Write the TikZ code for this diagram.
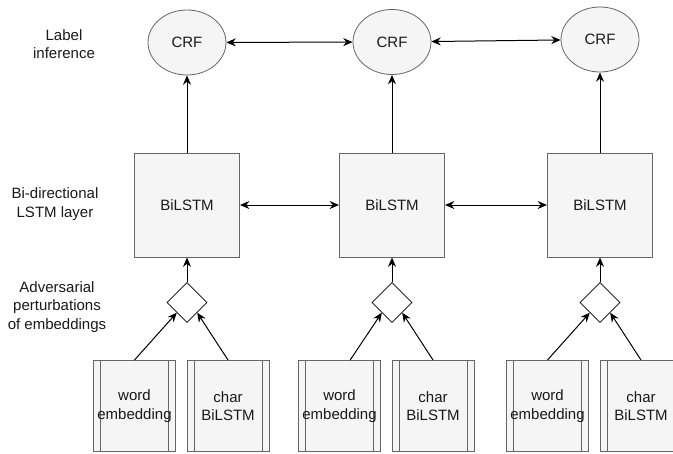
\documentclass[tikz,border=0pt]{standalone}
\usepackage{fontspec}
\setmainfont{Liberation Sans}
\usetikzlibrary{shapes.geometric,arrows.meta}
\definecolor{boxfill}{HTML}{F5F5F5}
\definecolor{boxline}{HTML}{666666}
\tikzset{
  txt/.style={font=\fontsize{11.25}{14}\selectfont, text=black!90},
  crf/.style={txt, ellipse, draw=boxline, fill=boxfill, line width=0.6pt,
    minimum width=58.5pt, minimum height=48.75pt, inner sep=0pt},
  lstm/.style={txt, rectangle, draw=boxline, fill=boxfill, line width=0.75pt,
    minimum width=78.75pt, minimum height=78pt},
  perturb/.style={diamond, draw=black, fill=white, line width=0.6pt,
    minimum size=30pt, inner sep=0pt},
  embed/.style={txt, rectangle, draw=boxline, fill=boxfill, line width=0.75pt,
    minimum width=61.5pt, minimum height=68.25pt, inner sep=0pt, align=center,
    path picture={
      \draw[boxline, line width=0.75pt]
        ([xshift=5.25pt]path picture bounding box.north west) --
        ([xshift=5.25pt]path picture bounding box.south west)
        ([xshift=-5.25pt]path picture bounding box.north east) --
        ([xshift=-5.25pt]path picture bounding box.south east);
    }},
  layer/.style={txt, align=center},
  arr/.style={-{Stealth[length=7pt,width=6pt]}, line width=0.75pt},
  twoarr/.style={{Stealth[length=7pt,width=6pt]}-{Stealth[length=7pt,width=6pt]}, line width=0.75pt}
}
\begin{document}
\begin{tikzpicture}[x=0.75pt,y=-0.75pt]
  \useasboundingbox (0,0) rectangle (673,453);
  \clip (0,0) rectangle (673,453);

  % row captions
  \node[layer] (capcrf)  at (64,44)  {Label\\inference};
  \node[layer] (caplstm) at (55,204) {Bi-directional\\LSTM layer};
  \node[layer] (capadv)  at (57,307) {Adversarial\\perturbations\\of embeddings};

  % one column per token
  \foreach \i/\x/\cy in {1/187/42.5, 2/392/42, 3/600/39.5} {
    \node[crf] (crf\i) at (\x,\cy) {CRF};
    \node[lstm] (lstm\i) at (\x,205) {BiLSTM};
    \node[perturb] (adv\i) at (\x,302.5) {};
    \node[embed] (word\i) at (\x-52.5,406) {word\\embedding};
    \node[embed] (char\i) at (\x+41,406) {char\\BiLSTM};

    \draw[arr] (lstm\i) -- (crf\i);
    \draw[arr] (adv\i) -- (lstm\i);
    \draw[arr] (char\i.north) -- (adv\i.south east);
  }
  \draw[arr] (word1.north) -- (adv1.south west);
  \draw[arr] ([xshift=8pt]word2.north) -- (adv2.south west);
  \draw[arr] (word3.north) -- (adv3.south west);

  % links between neighbours
  \draw[twoarr] (crf1) -- (crf2);
  \draw[twoarr] (crf2) -- (crf3);
  \draw[twoarr] (lstm1) -- (lstm2);
  \draw[twoarr] (lstm2) -- (lstm3);
\end{tikzpicture}
\end{document}
